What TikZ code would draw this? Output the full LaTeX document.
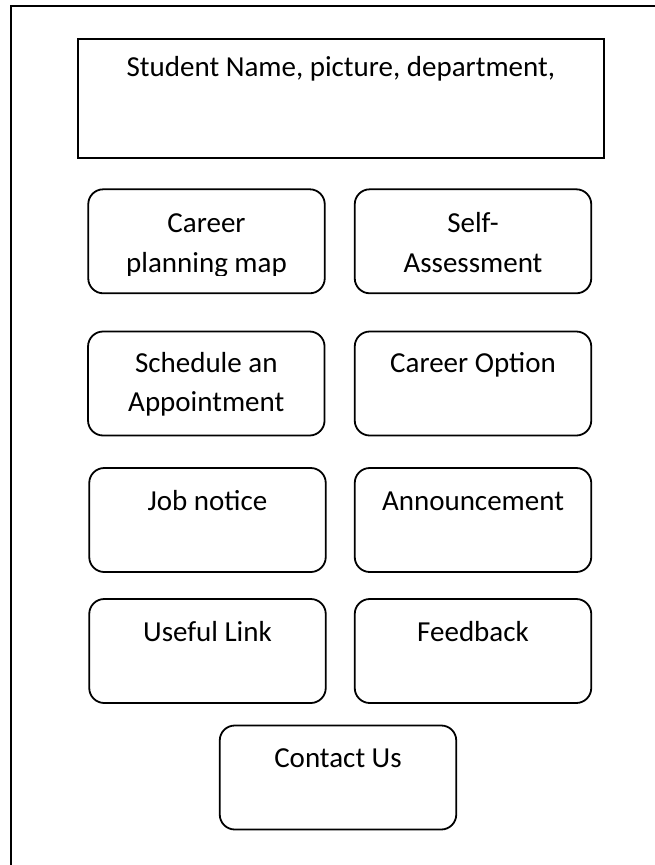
\documentclass[tikz,border=0pt]{standalone}
\usepackage{fontspec}
\setmainfont{Carlito}
\begin{document}
\begin{tikzpicture}[x=1pt,y=-1pt,line width=1.8pt,
  frame/.style={draw,line width=2pt},
  hdr/.style={draw,minimum width=526.3pt,minimum height=118.4pt,inner sep=0pt},
  btn/.style={draw,rounded corners=15pt,minimum width=236.5pt,minimum height=104pt,inner sep=0pt},
  lbl/.style={anchor=base,inner sep=0pt,font=\fontsize{29}{39}\selectfont}]
\useasboundingbox (0,0) rectangle (655,865);
% outer frame (cut off at right and bottom)
\coordinate (fa) at (11,880);
\coordinate (fb) at (11,5.7);
\coordinate (fc) at (680,5.7);
\draw[frame] (fa) -- (fb) -- (fc);
% header
\node[hdr] (hd) at (340.85,98.5) {};
\node[lbl] (hdt) at ([yshift=-38pt]hd.north) {Student Name, picture, department,};
% buttons
\node[btn] (b1) at (206.5,241.3) {};
\node[btn] (b2) at (473,241.3) {};
\node[btn] (b3) at (206.3,383.5) {};
\node[btn] (b4) at (473,383.5) {};
\node[btn] (b5) at (207.5,520) {};
\node[btn] (b6) at (473,520) {};
\node[btn] (b7) at (207.5,651) {};
\node[btn] (b8) at (473,651) {};
\node[btn] (b9) at (338,777.5) {};
% labels (two-line labels are clipped at the text area's bottom, as in the reference)
\begin{scope}
  \clip ([xshift=-120pt]b1.north) rectangle ([xshift=120pt,yshift=-87pt]b1.north);
  \node[lbl] (t1a) at ([yshift=-44pt]b1.north) {Career};
  \node[lbl] (t1b) at ([yshift=-84pt]b1.north) {planning map};
\end{scope}
\begin{scope}
  \clip ([xshift=-120pt]b2.north) rectangle ([xshift=120pt,yshift=-87pt]b2.north);
  \node[lbl] (t2a) at ([yshift=-44pt]b2.north) {Self-};
  \node[lbl] (t2b) at ([yshift=-84pt]b2.north) {Assessment};
\end{scope}
\begin{scope}
  \clip ([xshift=-120pt]b3.north) rectangle ([xshift=120pt,yshift=-86pt]b3.north);
  \node[lbl] (t3a) at ([yshift=-42pt]b3.north) {Schedule an};
  \node[lbl] (t3b) at ([yshift=-81pt]b3.north) {Appointment};
\end{scope}
\node[lbl] (t4a) at ([yshift=-42pt]b4.north) {Career Option};
\node[lbl] (t5) at ([yshift=-43pt]b5.north) {Job notice};
\node[lbl] (t6) at ([yshift=-43pt]b6.north) {Announcement};
\node[lbl] (t7) at ([yshift=-43pt]b7.north) {Useful Link};
\node[lbl] (t8) at ([yshift=-43pt]b8.north) {Feedback};
\node[lbl] (t9) at ([yshift=-43pt]b9.north) {Contact Us};
\end{tikzpicture}
\end{document}
